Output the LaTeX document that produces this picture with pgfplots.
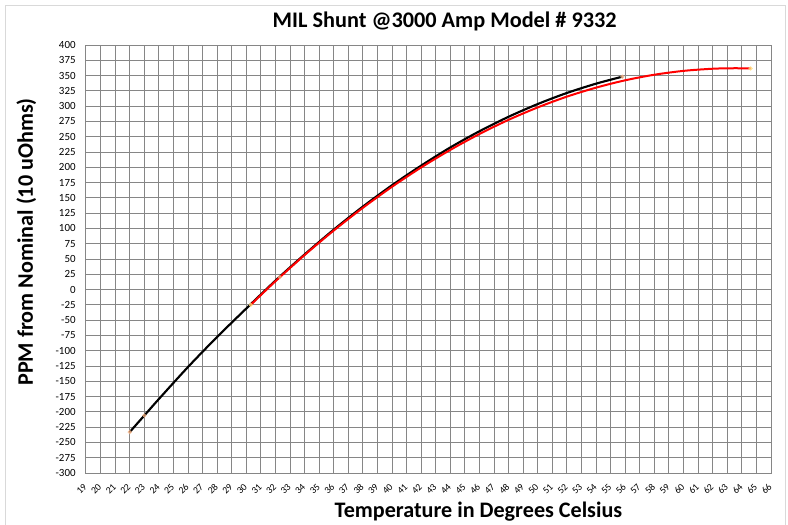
\documentclass[border=0pt]{standalone}
\usepackage{pgfplots}
\pgfplotsset{compat=1.18}
\usepackage{fontspec}
\setmainfont{Carlito}
\definecolor{gridgray}{RGB}{134,134,134}
\definecolor{framegray}{RGB}{217,217,217}
\definecolor{mkorange}{RGB}{244,177,131}
\definecolor{mkyellow}{RGB}{255,220,120}
\begin{document}
\begin{tikzpicture}
\path[use as bounding box] (-64.5pt,-38.8pt) rectangle (526.5pt,354.75pt);
\fill[white] (-64.5pt,-38.8pt) rectangle (526.5pt,354.75pt);
\draw[framegray, line width=0.75pt] (-60pt,-38.8pt) -- (-60pt,350.25pt) -- (524.25pt,350.25pt) -- (524.25pt,-38.8pt);
\begin{axis}[
  at={(0,0)}, anchor=south west,
  scale only axis, width=513.75pt, height=321pt,
  xmin=19, xmax=66, ymin=-300, ymax=400,
  xtick={19,...,66}, ytick={-300,-275,...,400},
  major tick length=0pt,
  grid=major,
  major grid style={gridgray, line width=0.75pt},
  axis line style={gridgray, line width=0.75pt},
  /pgf/number format/assume math mode=true,
  /pgf/number format/set thousands separator={},
  yticklabel style={font=\fontsize{8.2}{10}\selectfont, inner sep=0pt, anchor=east, xshift=-7.6pt},
  xticklabel style={font=\fontsize{7.3}{8}\selectfont, inner sep=0pt, yshift=-9.3pt, xshift=-0.5pt, rotate=45, anchor=east},
  title={\bfseries MIL Shunt @3000 Amp Model \# 9332},
  title style={font=\fontsize{16.7}{20}\selectfont, at={(axis description cs:0.5236,1)}, anchor=base, yshift=7pt},
  xlabel={\bfseries Temperature in Degrees Celsius},
  xlabel style={font=\fontsize{16.6}{20}\selectfont, at={(axis description cs:0.573,0)}, anchor=base, yshift=-33.2pt},
  ylabel={\bfseries PPM from Nominal (10 uOhms)},
  ylabel style={font=\fontsize{16.6}{20}\selectfont, at={(axis description cs:-0.0774,0.54)}, rotate=0, anchor=base},
  clip=false,
]
\addplot[black, line width=1.6pt, smooth] coordinates {
 (22,-233) (23,-206) (24,-179) (26,-126.6) (28,-77.4) (30,-30.9) (32,14.7) (34,57.5)
 (36,98.1) (38,135.8) (40,170.7) (42,202.8) (44,232.5) (46,259)
 (48,282.7) (50,303.5) (52,321.6) (54,336.8) (55.8,348.2)
};
\addplot[red, line width=1.5pt, smooth] coordinates {
 (30.3,-25) (32,13.7) (34,56.5) (36,96.6) (38,133.8) (40,168.2) (42,199.8)
 (44,228.5) (46,254.5) (48,277.7) (50,298) (52,315.6) (54,330.3)
 (56,342.3) (58,351.4) (60,357.7) (62,361.2) (63.5,362) (64.6,361.6)
};
\addplot[only marks, color=mkorange, mark=*, mark size=1.4pt, opacity=0.7] coordinates {
 (22,-233) (23,-206) (55.8,348.2) (32.3,20.4)
};
\addplot[only marks, color=mkyellow, mark=*, mark size=1.4pt, opacity=0.7] coordinates {
 (30.3,-25) (64.6,361.6)
};
\end{axis}
\end{tikzpicture}
\end{document}
